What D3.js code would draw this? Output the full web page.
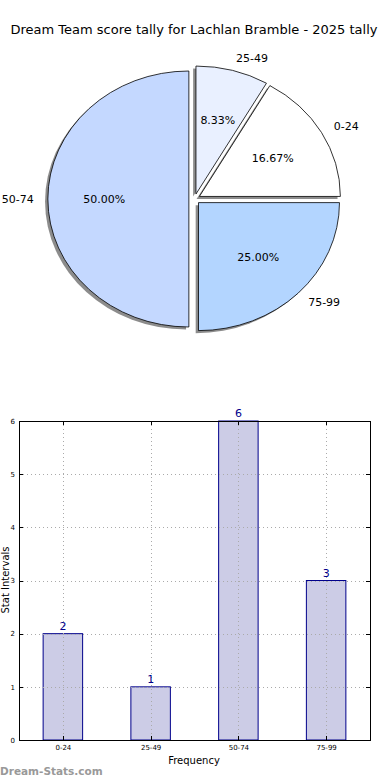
<!DOCTYPE html>
<html><head><meta charset="utf-8">
<script src="https://cdn.jsdelivr.net/npm/d3@7"></script>
<style>body{margin:0;background:#fff}svg{display:block;font-family:"DejaVu Sans",sans-serif}</style>
</head><body>
<script>
const categories = ["0-24","25-49","50-74","75-99"];
const counts = [2,1,6,3];
const pieColors = ["#ffffff","#e9f0ff","#c4d8ff","#b3d5ff"];
const yTicks = [0,1,2,3,4,5,6];

const W=390,H=780;
const svg=d3.select("body").append("svg").attr("width",W).attr("height",H);

svg.append("text").attr("x",194).attr("y",34).attr("text-anchor","middle")
  .attr("font-size",13).attr("fill","#000").text("Dream Team score tally for Lachlan Bramble - 2025 tally");

// Pie (matplotlib-style, counterclockwise from +x, elliptical)
const cx=194.5, cy=199, rx=141, ry=128, explode=0.04;
const total=d3.sum(counts);
let acc=0;
const slices=counts.map((v,i)=>{const t0=acc/total*2*Math.PI; acc+=v; const t1=acc/total*2*Math.PI; return {i,v,t0,t1,mid:(t0+t1)/2};});
const arc=d3.arc().innerRadius(0).outerRadius(1);
function arcPath(s){return arc({startAngle:Math.PI/2-s.t1,endAngle:Math.PI/2-s.t0});}
function off(s){return [cx+explode*rx*Math.cos(s.mid), cy-explode*ry*Math.sin(s.mid)];}
const pg=svg.append("g");
slices.forEach(s=>{const [ox,oy]=off(s);
  pg.append("path").attr("d",arcPath(s)).attr("transform",`translate(${ox-0.02*rx},${oy+0.02*ry}) scale(${rx},${ry})`)
   .attr("fill","rgba(0,0,0,0.45)").attr("stroke","none");});
slices.forEach(s=>{const [ox,oy]=off(s);
  pg.append("path").attr("d",arcPath(s)).attr("transform",`translate(${ox},${oy}) scale(${rx},${ry})`)
   .attr("fill",pieColors[s.i]).attr("stroke","#000").attr("stroke-width",0.8).attr("vector-effect","non-scaling-stroke");});
slices.forEach(s=>{const [ox,oy]=off(s);
  const c=Math.cos(s.mid), sn=Math.sin(s.mid);
  pg.append("text").attr("x",ox+1.1*rx*c).attr("y",oy-1.1*ry*sn).attr("dy","0.35em")
    .attr("text-anchor",c>0.01?"start":(c<-0.01?"end":"middle")).attr("font-size",11).text(categories[s.i]);
  pg.append("text").attr("x",ox+0.6*rx*c).attr("y",oy-0.6*ry*sn).attr("dy","0.35em")
    .attr("text-anchor","middle").attr("font-size",11).text((s.v/total*100).toFixed(2)+"%");
});

// Bar chart
const L=19,R=370,T=421,B=740;
const x=d3.scaleLinear().domain([-0.5,3.5]).range([L,R]);
const y=d3.scaleLinear().domain([0,6]).range([B,T]);
const bw=x(0.225)-x(-0.225);
const g=svg.append("g");
g.selectAll("rect.bar").data(counts).join("rect").attr("class","bar")
  .attr("x",(d,i)=>x(i)-bw/2).attr("y",d=>y(d)).attr("width",bw).attr("height",d=>y(0)-y(d))
  .attr("fill","#ccccE6").attr("stroke","#00008b").attr("stroke-width",1);
g.selectAll("line.gy").data(yTicks).join("line").attr("x1",L).attr("x2",R).attr("y1",d=>Math.round(y(d))+0.5).attr("y2",d=>Math.round(y(d))+0.5)
  .attr("stroke","#aaa").attr("stroke-width",1).attr("stroke-dasharray","1,3");
g.selectAll("line.gx").data(categories).join("line").attr("y1",T).attr("y2",B).attr("x1",(d,i)=>Math.round(x(i))+0.5).attr("x2",(d,i)=>Math.round(x(i))+0.5)
  .attr("stroke","#aaa").attr("stroke-width",1).attr("stroke-dasharray","1,3");
g.append("rect").attr("x",L+0.5).attr("y",T+0.5).attr("width",R-L).attr("height",B-T).attr("fill","none").attr("stroke","#000").attr("stroke-width",1);
yTicks.forEach(t=>{const yy=Math.round(y(t))+0.5;
  g.append("line").attr("x1",L).attr("x2",L+4).attr("y1",yy).attr("y2",yy).attr("stroke","#000");
  g.append("line").attr("x1",R-4).attr("x2",R).attr("y1",yy).attr("y2",yy).attr("stroke","#000");});
categories.forEach((c,i)=>{const xx=Math.round(x(i))+0.5;
  g.append("line").attr("x1",xx).attr("x2",xx).attr("y1",B-4).attr("y2",B).attr("stroke","#000");
  g.append("line").attr("x1",xx).attr("x2",xx).attr("y1",T).attr("y2",T+4).attr("stroke","#000");});
const yAxis=d3.axisLeft(y).tickValues(yTicks).tickSize(0).tickPadding(4).tickFormat(d3.format("d"));
const ya=g.append("g").attr("transform",`translate(${L},0)`).call(yAxis);
ya.select(".domain").remove();
ya.selectAll("text").attr("font-size",7).attr("font-family","DejaVu Sans");
const xAxis=d3.axisBottom(x).tickValues([0,1,2,3]).tickSize(0).tickPadding(5).tickFormat(i=>categories[i]);
const xa=g.append("g").attr("transform",`translate(0,${B})`).call(xAxis);
xa.select(".domain").remove();
xa.selectAll("text").attr("font-size",7).attr("font-family","DejaVu Sans");
g.selectAll("text.val").data(counts).join("text").attr("class","val")
  .attr("x",(d,i)=>x(i)).attr("y",d=>y(d)-4).attr("text-anchor","middle").attr("font-size",11).attr("fill","#00008b").text(d=>d);
svg.append("text").attr("x",194).attr("y",764).attr("text-anchor","middle").attr("font-size",10).text("Frequency");
svg.append("text").attr("transform","translate(9,580) rotate(-90)").attr("text-anchor","middle").attr("font-size",10).text("Stat Intervals");
svg.append("text").attr("x",0).attr("y",775).attr("font-size",10.5).attr("font-weight","bold").attr("fill","#999").text("Dream-Stats.com");
</script>
</body></html>
